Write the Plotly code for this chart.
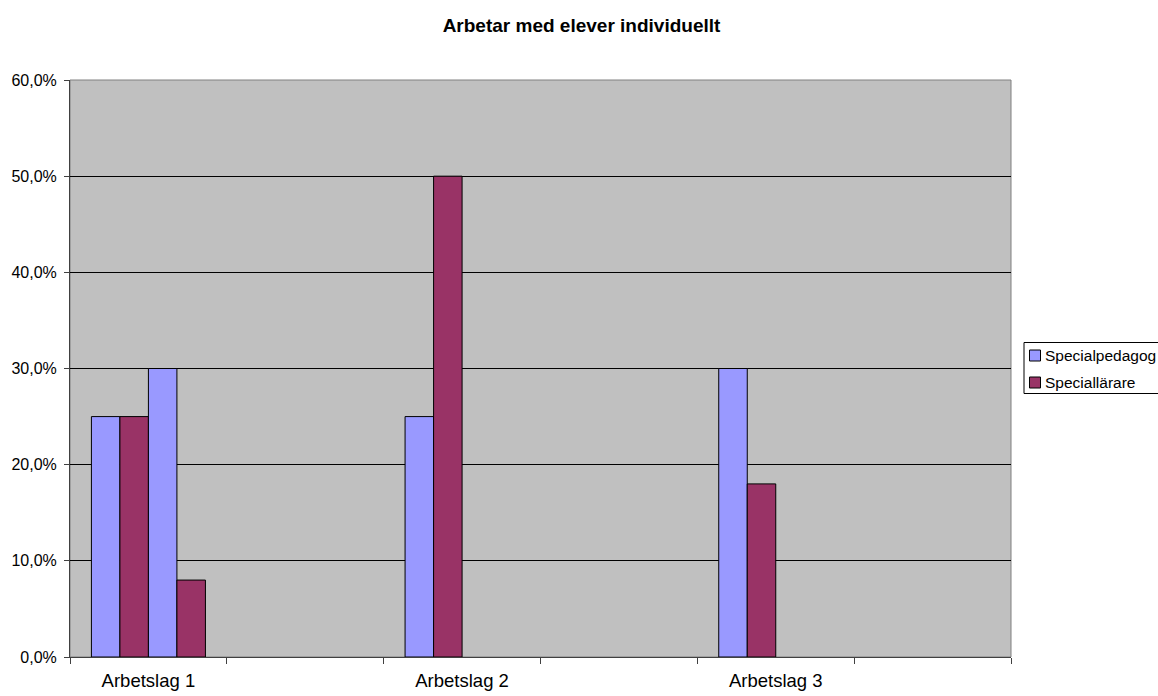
import plotly.graph_objects as go

# Categories (blank slots between the teams keep the original spacing)
categories = ["Arbetslag 1", " ", "Arbetslag 2", "  ", "Arbetslag 3", "   "]

# Series values (fractions); None means no bar in that slot
specialpedagog_a = [0.25, None, 0.25, None, 0.30, None]
speciallarare_a = [0.25, None, 0.50, None, 0.18, None]
specialpedagog_b = [0.30, None, None, None, None, None]
speciallarare_b = [0.08, None, None, None, None, None]

y_ticks = [0.0, 0.1, 0.2, 0.3, 0.4, 0.5, 0.6]
legend_names = ["Specialpedagog", "Speciallärare"]

BLUE = "#9999FF"
PLUM = "#993366"
FONT = "Liberation Sans, Arial, sans-serif"

W, H = 1158, 696
L, R, T, B = 70, 147, 80, 39
PW, PH = W - L - R, H - T - B


def px_x(px):
    return (px - L) / PW


def px_y(py):
    return (H - B - py) / PH


fig = go.Figure()
series = [
    ("Specialpedagog", specialpedagog_a, BLUE),
    ("Speciallärare", speciallarare_a, PLUM),
    ("Specialpedagog", specialpedagog_b, BLUE),
    ("Speciallärare", speciallarare_b, PLUM),
]
for name, vals, color in series:
    fig.add_trace(go.Bar(
        x=categories, y=vals, name=name, showlegend=False,
        marker=dict(color=color, line=dict(color="black", width=1)),
    ))

# plot-area frame (grey top/right edges)
fig.add_shape(type="rect", xref="paper", yref="paper", x0=0, y0=0, x1=1, y1=1,
              line=dict(color="#808080", width=1), layer="below")

# legend box with square keys
fig.add_shape(type="rect", xref="paper", yref="paper",
              x0=px_x(1024), x1=px_x(1165), y0=px_y(393.5), y1=px_y(342.5),
              line=dict(color="black", width=1), fillcolor="white")
for i, (name, color) in enumerate(zip(legend_names, [BLUE, PLUM])):
    cy = 355.5 + 27 * i
    fig.add_shape(type="rect", xref="paper", yref="paper",
                  x0=px_x(1029.5), x1=px_x(1040.5), y0=px_y(cy + 5.5), y1=px_y(cy - 5.5),
                  line=dict(color="black", width=1), fillcolor=color)
    fig.add_annotation(xref="paper", yref="paper", x=px_x(1043), y=px_y(cy),
                       xanchor="left", yanchor="middle", showarrow=False,
                       text=name, font=dict(family=FONT, size=15.5, color="black"))

fig.update_layout(
    width=W, height=H,
    margin=dict(l=L, r=R, t=T, b=B),
    paper_bgcolor="white", plot_bgcolor="#C0C0C0",
    separators=", ",
    font=dict(family=FONT, size=16, color="black"),
    title=dict(text="<b>Arbetar med elever individuellt</b>", x=581.5 / W, xanchor="center",
               y=1 - 25 / H, yanchor="middle", font=dict(size=19)),
    barmode="group", bargap=0.273, bargroupgap=0,
    showlegend=False,
    xaxis=dict(type="category", categoryorder="array", categoryarray=categories,
               tickson="boundaries", ticks="outside", ticklen=6, tickcolor="#404040",
               showline=True, linecolor="#404040", linewidth=1, showgrid=False,
               ticklabelstandoff=7, tickfont=dict(size=18.5), automargin=False),
    yaxis=dict(range=[0, 0.6], tickvals=y_ticks, tickformat=".1%",
               ticks="outside", ticklen=5, tickcolor="#404040",
               showline=True, linecolor="#404040", linewidth=1,
               showgrid=True, gridcolor="black", gridwidth=1, zeroline=False,
               ticklabelstandoff=4, tickfont=dict(size=16), automargin=False),
)

fig.write_html("out.html")
